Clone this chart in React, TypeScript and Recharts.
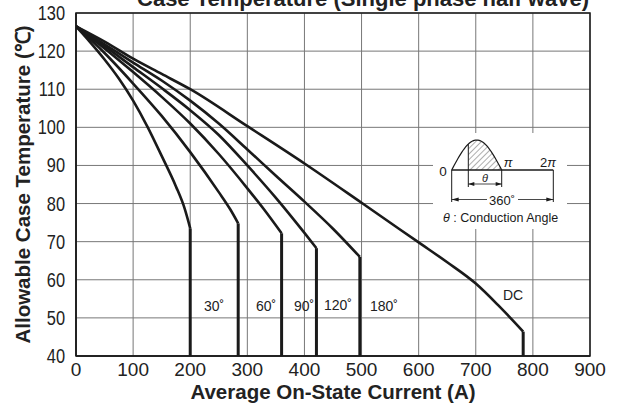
import React from "react"
import { LineChart, Line, XAxis, YAxis, CartesianGrid } from "recharts"

// plot box in page pixels
const W = 617
const H = 409
const LEFT = 76
const RIGHT = 590
const TOP = 13
const BOTTOM = 356

const xTicks = [0, 100, 200, 300, 400, 500, 600, 700, 800, 900]
const yTicks = [40, 50, 60, 70, 80, 90, 100, 110, 120, 130]

// [average on-state current (A), allowable case temperature (C)]
const curve30 = [[0, 126.5], [25, 122.3], [50, 117.8], [75, 112.8], [100, 107], [125, 100.2], [150, 92.5], [175, 84.5], [190, 78.8], [200, 73.5]]
const curve60 = [[0, 126.5], [50, 119.5], [100, 111.5], [150, 103], [200, 93.5], [250, 83], [270, 78.5], [284, 74.8]]
const curve90 = [[0, 126.5], [50, 120.7], [100, 114.5], [150, 108], [200, 101], [250, 93], [300, 84], [330, 78.3], [360, 72.2]]
const curve120 = [[0, 126.5], [50, 121.3], [100, 115.8], [150, 110.3], [200, 104.5], [250, 98], [300, 90], [350, 81.5], [400, 72.3], [421, 68.3]]
const curve180 = [[0, 126.5], [50, 121.8], [100, 117], [150, 112.3], [200, 107], [250, 101], [300, 94.2], [350, 87.3], [400, 80.5], [450, 73.4], [497, 66]]
const curveDC = [[0, 126.5], [50, 122.5], [100, 118], [150, 114], [200, 110], [300, 100.3], [400, 90.5], [500, 80.2], [600, 69.8], [650, 64.6], [700, 59], [740, 53.2], [783, 46.4]]

const curves = [
  { name: "30", points: curve30 },
  { name: "60", points: curve60 },
  { name: "90", points: curve90 },
  { name: "120", points: curve120 },
  { name: "180", points: curve180 },
  { name: "DC", points: curveDC },
]

const curveLabels = [
  { text: "30˚", x: 214, y: 311 },
  { text: "60˚", x: 266, y: 311 },
  { text: "90˚", x: 304, y: 311 },
  { text: "120˚", x: 338, y: 310 },
  { text: "180˚", x: 384, y: 311 },
  { text: "DC", x: 513, y: 300 },
]

const toRows = (pts: number[][]) => pts.map(([x, y]) => ({ x, y }))
const dropRows = (pts: number[][]) => {
  const [x, y] = pts[pts.length - 1]
  return [{ x, y }, { x, y: 40 }]
}

const SANS = "'Liberation Sans', Arial, sans-serif"
const INK = "#1a1a1a"

// condensed tick labels on the temperature axis
function NarrowYTick(props: any) {
  const { x, y, payload } = props
  return (
    <g transform={`translate(${x},${y})`}>
      <text
        transform="scale(0.8,1)"
        textAnchor="end"
        dy={7}
        fontSize={20.5}
        fontFamily={SANS}
        fill="#222"
      >
        {payload.value}
      </text>
    </g>
  )
}

// small conduction-angle sketch
function Inset() {
  const x0 = 451.7
  const base = 170
  const half = 50
  const amp = 30
  const sy = (x: number) => base - amp * Math.sin((Math.PI * (x - x0)) / half)
  const wave: string[] = []
  for (let i = 0; i <= 40; i++) {
    const x = x0 + (half * i) / 40
    wave.push(`${x.toFixed(2)},${sy(x).toFixed(2)}`)
  }
  const cut = 468.3
  const hatch: string[] = []
  for (let i = 0; i <= 30; i++) {
    const x = cut + ((x0 + half - cut) * i) / 30
    hatch.push(`${x.toFixed(2)},${sy(x).toFixed(2)}`)
  }
  const end2 = 553.3
  return (
    <g>
      <defs>
        <pattern id="hatch" width="4" height="4" patternUnits="userSpaceOnUse" patternTransform="rotate(45)">
          <line x1="0" y1="0" x2="0" y2="4" stroke="#333" strokeWidth="0.8" />
        </pattern>
      </defs>
      <rect x={433} y={133} width={134} height={96} fill="#fff" />
      <path d={`M${cut},${base} L${hatch.join(" L")} Z`} fill="url(#hatch)" stroke="none" />
      <polyline points={wave.join(" ")} fill="none" stroke={INK} strokeWidth={1.2} />
      <line x1={x0} y1={base} x2={end2} y2={base} stroke={INK} strokeWidth={1.4} />
      <line x1={cut} y1={sy(cut)} x2={cut} y2={187} stroke={INK} strokeWidth={1} />
      <line x1={x0 + half} y1={base} x2={x0 + half} y2={187} stroke={INK} strokeWidth={1} />
      <line x1={cut} y1={184} x2={x0 + half} y2={184} stroke={INK} strokeWidth={0.8} />
      <polygon points={`${cut},184 ${cut + 6},182 ${cut + 6},186`} fill={INK} />
      <polygon points={`${x0 + half},184 ${x0 + half - 6},182 ${x0 + half - 6},186`} fill={INK} />
      <line x1={x0} y1={base} x2={x0} y2={202} stroke={INK} strokeWidth={1} />
      <line x1={end2} y1={base} x2={end2} y2={202} stroke={INK} strokeWidth={1} />
      <line x1={x0} y1={199.5} x2={487} y2={199.5} stroke={INK} strokeWidth={0.8} />
      <line x1={518} y1={199.5} x2={end2} y2={199.5} stroke={INK} strokeWidth={0.8} />
      <polygon points={`${x0},199.5 ${x0 + 7},197.5 ${x0 + 7},201.5`} fill={INK} />
      <polygon points={`${end2},199.5 ${end2 - 7},197.5 ${end2 - 7},201.5`} fill={INK} />
      <g fontFamily={SANS} fill={INK}>
        <text x={443} y={176} fontSize={13.5} textAnchor="middle">0</text>
        <text x={508} y={167} fontSize={13} fontStyle="italic" textAnchor="middle">π</text>
        <text x={548} y={167} fontSize={13} textAnchor="middle">2<tspan fontStyle="italic">π</tspan></text>
        <text x={485} y={182} fontSize={11} fontStyle="italic" textAnchor="middle">θ</text>
        <text x={502} y={205} fontSize={13} textAnchor="middle">360˚</text>
        <text x={443} y={222} fontSize={12.5}><tspan fontStyle="italic">θ</tspan> : Conduction Angle</text>
      </g>
    </g>
  )
}

export default function App() {
  return (
    <div style={{ position: "absolute", left: 0, top: 0, width: W, height: H, background: "#fff" }}>
      <LineChart
        width={W}
        height={H}
        margin={{ top: TOP, right: W - RIGHT, bottom: 0, left: 0 }}
      >
        <CartesianGrid stroke="#777" strokeWidth={1} />
        <XAxis
          type="number"
          dataKey="x"
          domain={[0, 900]}
          ticks={xTicks}
          allowDataOverflow
          height={H - BOTTOM}
          tickLine={false}
          tickSize={5}
          tickMargin={2}
          axisLine={{ stroke: INK, strokeWidth: 1.5 }}
          tick={{ fontSize: 19, fill: "#222", fontFamily: SANS }}
          label={{
            value: "Average On-State Current (A)",
            position: "insideBottom",
            offset: 10,
            style: { fontSize: 20.5, fontWeight: 700, fill: "#222", fontFamily: SANS },
          }}
        />
        <YAxis
          type="number"
          domain={[40, 130]}
          ticks={yTicks}
          allowDataOverflow
          width={LEFT}
          tickLine={false}
          tickSize={9}
          tickMargin={2}
          axisLine={{ stroke: INK, strokeWidth: 1.5 }}
          tick={<NarrowYTick />}
          label={{
            value: "Allowable Case Temperature (℃)",
            angle: -90,
            position: "insideLeft",
            offset: 23,
            style: { fontSize: 20.5, fontWeight: 700, fill: "#222", fontFamily: SANS, textAnchor: "middle" },
          }}
        />
        {curves.map((c) => (
          <Line
            key={c.name}
            data={toRows(c.points)}
            dataKey="y"
            type="monotone"
            stroke={INK}
            strokeWidth={2.6}
            dot={false}
            activeDot={false}
            isAnimationActive={false}
          />
        ))}
        {curves.map((c) => (
          <Line
            key={c.name + "-drop"}
            data={dropRows(c.points)}
            dataKey="y"
            type="linear"
            stroke={INK}
            strokeWidth={3}
            dot={false}
            activeDot={false}
            isAnimationActive={false}
          />
        ))}
      </LineChart>
      <svg
        width={W}
        height={H}
        style={{ position: "absolute", left: 0, top: 0, pointerEvents: "none" }}
      >
        <rect x={LEFT} y={TOP} width={RIGHT - LEFT} height={BOTTOM - TOP} fill="none" stroke={INK} strokeWidth={1.5} />
        <Inset />
        <text x={363} y={6} textAnchor="middle" fontFamily={SANS} fontSize={22} fontWeight={700} fill="#222">
          Case Temperature (Single phase half wave)
        </text>
        {curveLabels.map((l) => (
          <text key={l.text} x={l.x} y={l.y} textAnchor="middle" fontFamily={SANS} fontSize={14} fill="#222">
            {l.text}
          </text>
        ))}
      </svg>
    </div>
  )
}
